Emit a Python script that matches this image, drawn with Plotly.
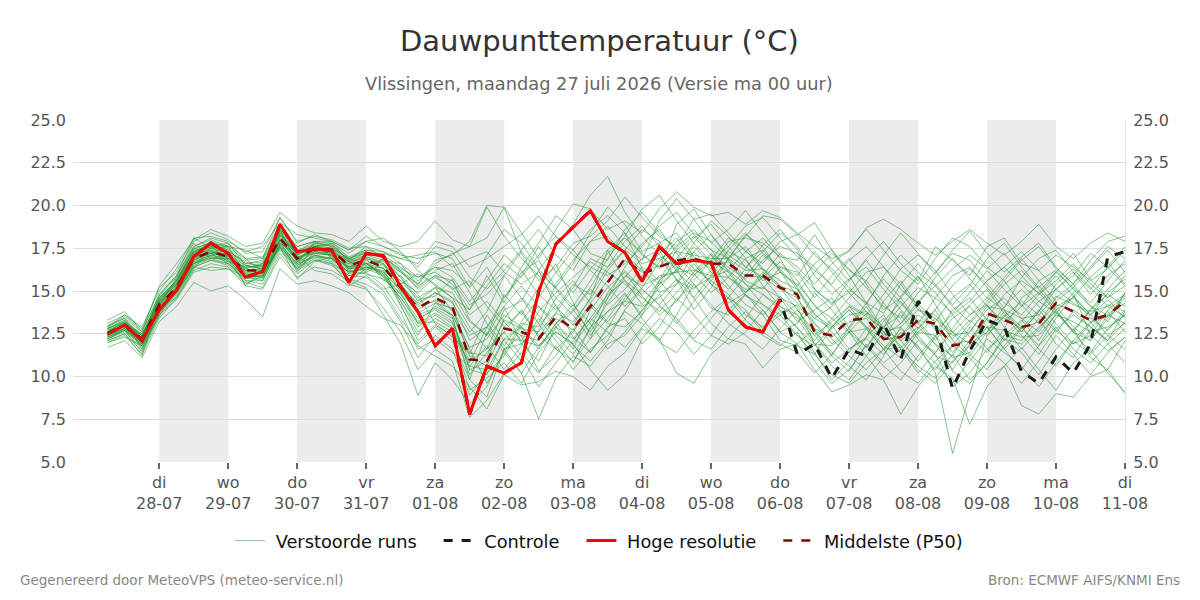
import pandas as pd
import plotly.graph_objects as go

# ---------------- data ----------------
times = pd.date_range("2026-07-27 06:00", periods=60, freq="6h")

hoge_resolutie = [12.5, 13.0, 12.1, 13.9, 15.05, 17.0, 17.8, 17.2, 15.8, 16.15,
                  18.9, 17.3, 17.45, 17.4, 15.5, 17.2, 17.05, 15.25, 13.8, 11.8,
                  12.8, 7.8, 10.6, 10.2, 10.8, 14.95, 17.75, 18.7, 19.7, 17.9,
                  17.25, 15.55, 17.6, 16.6, 16.8, 16.65, 13.9, 12.9, 12.6, 14.5]

controle = hoge_resolutie + [11.3, 11.9, 9.9, 11.6, 11.2, 13.1, 11.0, 14.4, 13.1, 9.3,
                             11.5, 13.3, 12.9, 10.3, 9.6, 11.15, 10.2, 11.9, 17.0, 17.3]

middelste = [12.5, 13.0, 12.2, 14.2, 15.2, 16.9, 17.3, 17.0, 16.2, 16.2,
             18.1, 16.9, 17.5, 17.4, 16.5, 16.8, 16.4, 15.2, 14.0, 14.6,
             14.1, 11.0, 10.9, 12.8, 12.6, 12.2, 13.5, 12.8, 14.1, 15.5,
             16.9, 16.0, 16.4, 16.8, 16.9, 16.6, 16.6, 15.9, 15.9, 15.2,
             14.8, 12.6, 12.4, 13.3, 13.4, 12.2, 12.3, 13.3, 13.1, 11.8,
             12.0, 13.7, 13.3, 12.9, 13.1, 14.3, 13.8, 13.3, 13.6, 14.4]

verstoorde_runs = [
    [12.8, 13.3, 12.4, 14.6, 15.6, 17.4, 17.9, 17.5, 16.6, 16.8, 18.6, 17.3, 17.9, 17.6, 16.9, 17.3, 17.0, 16.2, 15.4, 16.8,
     17.1, 17.9, 20.0, 19.9, 17.2, 15.6, 16.4, 17.8, 18.2, 19.1, 20.5, 19.3, 18.2, 17.6, 18.4, 17.9, 16.8, 15.4, 14.2, 13.6,
     12.4, 11.8, 12.9, 14.1, 13.5, 12.8, 14.7, 15.9, 14.2, 12.6, 11.9, 13.4, 14.8, 15.6, 14.9, 13.8, 12.7, 13.9, 15.1, 16.2],
    [12.2, 12.6, 11.6, 13.8, 14.9, 16.4, 16.8, 16.6, 15.6, 15.4, 17.4, 16.2, 16.8, 16.6, 15.4, 15.1, 14.0, 12.6, 10.4, 11.6,
     10.9, 7.6, 8.6, 10.2, 11.4, 10.2, 11.8, 10.4, 11.6, 12.4, 13.8, 13.1, 12.0, 11.4, 12.7, 13.8, 14.6, 13.3, 12.4, 11.8,
     12.6, 10.9, 9.6, 10.4, 11.8, 10.6, 9.8, 11.2, 12.4, 10.3, 9.6, 10.8, 12.2, 11.4, 10.1, 11.6, 12.8, 11.1, 10.4, 12.1],
    [12.6, 12.9, 12.3, 14.4, 15.4, 17.2, 17.6, 16.9, 16.4, 16.5, 18.3, 17.1, 17.7, 17.0, 16.8, 17.6, 16.9, 15.8, 14.6, 15.2,
     13.8, 12.4, 12.9, 14.6, 16.1, 16.8, 15.2, 14.1, 15.6, 17.2, 18.1, 17.2, 16.3, 18.9, 19.8, 18.3, 17.1, 16.4, 15.8, 14.6,
     13.2, 13.9, 14.6, 12.8, 11.7, 12.9, 13.6, 12.2, 11.4, 12.8, 14.2, 15.1, 13.7, 12.6, 13.8, 15.4, 16.3, 15.2, 14.1, 13.5],
    [12.4, 12.8, 11.8, 14.0, 15.0, 16.7, 17.1, 17.2, 16.0, 15.9, 17.8, 16.6, 17.3, 17.6, 16.2, 16.0, 15.7, 14.8, 13.4, 13.9,
     13.2, 10.4, 10.1, 12.2, 12.9, 11.6, 13.1, 13.9, 12.6, 14.3, 15.8, 16.9, 17.4, 15.6, 15.1, 16.2, 17.3, 16.8, 15.6, 16.1,
     15.4, 14.2, 13.0, 11.6, 12.3, 14.4, 15.6, 14.1, 12.7, 13.6, 12.3, 11.4, 12.8, 14.6, 15.3, 14.1, 12.9, 12.1, 13.4, 14.9],
    [12.9, 13.4, 12.6, 14.8, 15.9, 17.6, 18.1, 17.8, 16.9, 17.0, 18.9, 17.6, 17.9, 17.8, 17.2, 17.9, 17.6, 17.2, 16.4, 17.6,
     17.3, 15.8, 15.1, 16.2, 17.4, 18.6, 17.1, 16.2, 17.9, 18.8, 17.6, 16.8, 19.1, 20.4, 19.2, 17.8, 18.6, 19.7, 18.4, 17.1,
     16.2, 15.1, 14.2, 15.6, 16.8, 15.4, 14.3, 13.1, 14.6, 15.9, 16.4, 15.2, 14.0, 15.8, 16.9, 17.4, 16.1, 14.8, 15.9, 16.6],
    [12.0, 12.4, 11.3, 13.4, 14.6, 16.2, 16.6, 16.4, 15.3, 15.1, 17.0, 15.8, 16.4, 16.2, 15.6, 15.2, 13.6, 11.9, 8.9, 10.8,
     9.8, 8.4, 9.4, 11.6, 10.2, 7.5, 9.9, 11.2, 10.6, 11.9, 12.4, 13.6, 14.8, 13.2, 12.1, 11.6, 12.9, 13.8, 12.6, 11.9,
     11.4, 10.2, 11.3, 12.6, 11.2, 9.9, 10.8, 12.1, 11.3, 9.4, 10.2, 11.6, 10.8, 9.6, 10.9, 12.4, 11.3, 10.1, 11.4, 12.3],
    [12.7, 13.1, 12.5, 14.1, 15.3, 17.0, 17.5, 17.2, 16.3, 16.6, 18.4, 17.0, 17.2, 17.1, 16.6, 17.0, 16.6, 15.6, 14.9, 15.8,
     15.2, 13.6, 14.4, 13.2, 12.1, 13.8, 14.9, 15.8, 16.7, 16.1, 15.4, 14.6, 13.8, 14.9, 16.1, 17.2, 16.4, 15.7, 16.8, 17.6,
     17.2, 16.4, 15.3, 14.2, 13.6, 14.8, 16.3, 17.1, 16.2, 14.8, 13.6, 14.2, 15.4, 16.2, 15.1, 13.9, 14.6, 15.8, 16.7, 15.4],
    [12.3, 12.7, 11.9, 13.9, 15.1, 16.6, 17.0, 16.8, 15.8, 15.7, 17.6, 16.4, 17.0, 16.9, 16.0, 16.4, 16.2, 14.4, 12.6, 13.4,
     12.8, 10.1, 11.4, 12.6, 13.9, 12.4, 11.6, 10.9, 12.2, 14.6, 16.4, 17.8, 18.6, 17.2, 16.0, 14.9, 15.8, 16.9, 17.4, 16.2,
     14.6, 13.1, 11.9, 12.8, 14.1, 12.6, 11.4, 12.8, 13.9, 12.1, 11.2, 12.6, 13.8, 12.9, 11.8, 13.4, 14.7, 13.6, 12.4, 13.1],
    [12.5, 13.1, 12.1, 14.3, 15.1, 16.8, 17.2, 17.1, 16.1, 16.0, 17.9, 16.8, 17.6, 17.8, 16.7, 16.2, 16.9, 16.1, 15.2, 16.2,
     16.6, 14.9, 13.1, 11.8, 13.2, 14.6, 16.1, 17.4, 16.2, 15.3, 14.1, 15.2, 16.7, 17.9, 18.6, 17.4, 16.2, 17.3, 18.1, 16.9,
     15.2, 13.7, 12.6, 11.4, 12.8, 13.6, 12.1, 10.9, 12.3, 13.9, 14.6, 13.3, 12.1, 13.2, 14.4, 13.7, 12.6, 13.9, 14.8, 14.1],
    [12.6, 13.0, 12.4, 14.5, 15.5, 17.1, 17.4, 16.7, 16.4, 16.4, 18.2, 17.2, 17.4, 17.3, 16.4, 16.9, 16.6, 15.4, 14.2, 14.9,
     14.3, 12.6, 13.8, 15.9, 17.3, 16.2, 17.6, 18.9, 20.6, 21.7, 19.6, 18.2, 17.1, 16.3, 17.8, 19.1, 18.2, 16.9, 15.3, 14.1,
     13.6, 12.4, 11.2, 12.9, 14.3, 15.7, 14.6, 13.2, 12.1, 13.4, 14.1, 12.9, 11.6, 12.8, 13.9, 12.7, 11.9, 13.1, 14.2, 13.8],
    [12.2, 12.7, 11.7, 13.7, 14.8, 16.5, 16.9, 16.9, 15.9, 15.8, 17.7, 16.3, 17.1, 16.8, 16.1, 16.6, 15.9, 14.2, 12.1, 13.0,
     12.4, 9.2, 9.9, 10.8, 9.6, 11.4, 12.6, 11.9, 10.4, 9.2, 10.1, 12.2, 13.4, 12.6, 11.3, 12.4, 13.9, 14.8, 13.6, 12.1,
     11.8, 11.3, 10.1, 9.6, 10.8, 11.6, 10.3, 9.6, 10.9, 11.8, 11.1, 9.9, 10.6, 11.7, 10.4, 9.2, 10.8, 11.6, 10.2, 9.1],
    [12.8, 13.2, 12.2, 14.2, 15.7, 17.3, 17.7, 17.4, 16.5, 16.3, 18.5, 16.7, 17.8, 17.7, 17.0, 17.4, 17.3, 16.6, 15.8, 16.4,
     15.8, 14.4, 15.6, 17.1, 16.2, 14.8, 13.9, 15.4, 14.8, 16.4, 17.9, 18.8, 17.6, 16.4, 15.9, 16.8, 18.1, 17.4, 16.2, 15.3,
     14.9, 16.1, 17.2, 16.3, 15.2, 14.1, 13.4, 14.9, 16.1, 17.2, 16.8, 15.6, 16.4, 17.3, 16.2, 15.1, 15.9, 17.2, 16.4, 15.3],
    [12.4, 12.9, 12.0, 14.1, 15.0, 16.9, 17.3, 17.0, 16.3, 16.1, 18.0, 17.0, 17.3, 17.2, 16.3, 16.5, 16.1, 15.0, 13.7, 14.3,
     14.0, 11.2, 10.6, 12.9, 12.4, 12.1, 13.4, 12.7, 14.3, 15.6, 16.8, 16.1, 16.5, 16.7, 16.8, 16.5, 16.7, 15.9, 15.8, 15.1,
     14.6, 12.8, 12.3, 13.2, 13.4, 12.1, 12.4, 13.3, 13.0, 11.9, 12.1, 13.6, 13.4, 12.8, 13.2, 14.2, 13.9, 13.2, 13.5, 14.3],
    [12.3, 12.8, 11.9, 14.0, 14.9, 16.6, 17.1, 16.9, 16.0, 16.1, 18.0, 16.7, 17.2, 17.1, 16.3, 16.7, 15.8, 14.6, 13.2, 14.1,
     13.6, 11.7, 12.2, 13.6, 12.9, 11.8, 12.9, 12.2, 13.4, 14.8, 15.6, 14.8, 15.9, 16.1, 15.2, 15.8, 16.2, 15.4, 14.8, 14.1,
     13.4, 11.9, 10.8, 11.6, 12.2, 11.3, 12.6, 11.8, 10.2, 5.5, 8.9, 12.4, 13.6, 12.4, 11.3, 12.8, 13.6, 12.9, 12.1, 13.2],
    [12.6, 13.2, 12.3, 14.4, 15.4, 17.0, 17.3, 17.1, 16.5, 16.6, 18.3, 17.1, 17.5, 17.2, 16.9, 17.2, 17.2, 16.9, 16.6, 17.9,
     17.6, 16.4, 16.9, 17.6, 18.3, 19.4, 18.2, 17.1, 16.4, 15.9, 16.6, 17.6, 18.8, 19.6, 18.3, 17.4, 16.9, 18.2, 19.4, 19.2,
     18.3, 19.0, 17.4, 16.2, 15.6, 17.1, 18.4, 17.2, 16.0, 17.4, 18.5, 17.2, 16.1, 17.0, 17.8, 16.4, 15.4, 16.8, 17.9, 18.2],
    [12.5, 12.9, 12.2, 14.3, 15.2, 16.8, 17.2, 16.6, 15.7, 16.0, 17.7, 16.6, 17.0, 16.7, 15.9, 16.1, 15.3, 13.8, 11.6, 12.2,
     11.4, 10.6, 11.8, 10.4, 11.8, 13.4, 12.1, 10.8, 12.9, 13.8, 14.9, 13.4, 12.1, 13.6, 15.4, 14.2, 13.1, 12.4, 11.6, 12.8,
     13.9, 12.6, 11.4, 10.6, 9.8, 11.2, 12.9, 11.6, 10.4, 11.8, 13.1, 14.2, 12.9, 11.6, 12.8, 13.9, 12.6, 11.4, 12.8, 13.6],
    [12.9, 13.5, 12.7, 14.7, 15.8, 17.5, 17.8, 17.6, 16.8, 16.9, 18.7, 17.4, 17.7, 17.5, 16.9, 17.4, 17.1, 16.4, 15.6, 16.4,
     16.2, 15.3, 17.1, 18.6, 17.8, 16.3, 15.1, 13.9, 15.2, 16.9, 18.2, 19.8, 20.6, 19.1, 17.8, 16.7, 17.6, 18.8, 19.3, 18.1,
     17.0, 16.2, 15.4, 16.8, 17.6, 16.4, 15.1, 14.2, 15.8, 16.9, 15.7, 14.6, 15.8, 16.9, 15.6, 14.4, 15.2, 16.3, 17.4, 16.1],
    [12.1, 12.5, 11.5, 13.6, 14.5, 16.1, 16.4, 16.3, 15.5, 15.2, 17.2, 16.0, 16.8, 16.5, 15.7, 15.4, 14.8, 13.2, 11.1, 12.4,
     11.6, 8.9, 10.2, 11.2, 12.9, 14.1, 13.2, 11.8, 10.9, 12.1, 13.9, 15.1, 14.2, 13.1, 14.4, 15.6, 14.8, 13.6, 12.9, 13.8,
     12.9, 11.4, 9.8, 10.9, 12.3, 13.4, 11.6, 10.2, 11.4, 12.6, 11.3, 10.4, 11.8, 12.9, 11.6, 10.6, 12.1, 13.2, 11.9, 10.8],
    [12.7, 13.1, 12.4, 14.2, 15.3, 17.1, 17.6, 17.3, 16.7, 16.4, 18.4, 17.2, 17.6, 17.3, 16.6, 17.1, 16.8, 15.8, 14.4, 15.2,
     14.9, 13.2, 12.4, 14.1, 15.3, 14.1, 12.9, 13.8, 15.1, 14.2, 15.1, 16.4, 15.6, 14.4, 15.9, 17.1, 16.2, 14.9, 15.8, 16.7,
     15.6, 14.1, 13.4, 14.6, 15.6, 14.3, 13.1, 14.4, 15.3, 14.1, 13.2, 14.4, 15.6, 14.2, 13.1, 14.6, 15.4, 14.1, 13.2, 14.9],
    [12.4, 13.0, 12.0, 14.1, 15.2, 16.7, 17.1, 16.8, 16.2, 16.3, 18.0, 16.9, 17.4, 17.3, 16.4, 16.6, 16.0, 14.8, 13.9, 14.5,
     13.9, 11.6, 9.6, 11.4, 13.1, 12.9, 14.2, 12.3, 11.4, 12.8, 14.6, 15.9, 17.2, 18.1, 16.8, 15.4, 14.6, 15.9, 17.1, 16.3,
     15.1, 13.6, 12.9, 13.9, 12.8, 11.6, 12.4, 13.6, 12.9, 11.4, 12.6, 13.9, 14.6, 13.4, 12.6, 14.1, 14.6, 13.4, 12.7, 13.9],
    [12.6, 13.0, 12.3, 14.4, 15.5, 17.2, 17.5, 17.2, 16.1, 16.6, 18.3, 17.3, 17.6, 17.5, 16.7, 17.0, 16.7, 16.1, 15.4, 16.6,
     17.2, 17.6, 19.9, 18.2, 16.9, 15.9, 14.6, 15.6, 14.3, 13.2, 14.4, 15.8, 16.9, 15.7, 14.6, 15.9, 17.4, 18.4, 17.2, 16.4,
     15.9, 17.3, 16.1, 14.9, 13.8, 12.9, 14.1, 15.2, 14.6, 13.7, 14.9, 16.2, 15.1, 14.1, 14.9, 16.1, 15.2, 14.3, 15.6, 16.8],
    [12.3, 12.7, 11.8, 13.9, 14.9, 16.6, 17.0, 16.7, 15.9, 15.8, 17.8, 16.5, 17.1, 16.9, 16.1, 16.3, 15.9, 14.6, 13.1, 13.7,
     13.1, 10.9, 11.6, 12.6, 11.2, 9.4, 10.8, 12.1, 13.4, 12.6, 11.7, 12.9, 14.1, 13.4, 12.2, 13.4, 14.6, 13.9, 12.8, 13.6,
     14.2, 13.1, 12.2, 11.2, 10.4, 11.6, 12.8, 11.7, 10.8, 9.6, 10.9, 12.2, 11.4, 10.6, 9.4, 10.8, 12.1, 11.3, 12.4, 11.6],
    [12.8, 13.2, 12.5, 14.5, 15.6, 17.3, 17.8, 17.4, 16.6, 16.7, 18.5, 17.1, 17.8, 17.6, 16.8, 17.1, 17.0, 16.2, 15.1, 15.9,
     15.6, 14.2, 14.8, 15.9, 14.6, 13.1, 15.4, 16.8, 17.9, 18.2, 17.1, 16.2, 15.4, 16.9, 18.1, 18.9, 17.6, 16.4, 17.3, 18.4,
     17.6, 15.9, 14.8, 15.7, 16.4, 15.1, 13.9, 12.8, 13.9, 15.3, 16.3, 15.4, 14.3, 13.6, 14.8, 15.9, 14.7, 13.6, 14.9, 15.7],
    [12.5, 13.0, 12.1, 14.2, 15.1, 16.9, 17.2, 17.0, 16.2, 16.2, 18.1, 16.8, 17.4, 17.2, 16.3, 16.4, 16.1, 15.1, 13.6, 14.0,
     13.4, 10.4, 10.9, 13.4, 14.6, 13.6, 12.4, 11.3, 12.8, 14.9, 16.2, 15.1, 14.2, 15.4, 16.6, 15.4, 14.3, 14.9, 16.1, 15.2,
     13.9, 12.4, 13.2, 14.1, 12.9, 11.8, 11.1, 12.6, 13.4, 12.2, 13.3, 12.4, 13.5, 14.4, 13.6, 12.6, 13.8, 12.9, 12.1, 13.8],
    [12.2, 12.7, 11.4, 13.6, 14.7, 16.4, 16.8, 16.5, 15.6, 15.6, 17.5, 16.3, 16.9, 16.6, 15.9, 15.8, 15.0, 13.4, 11.9, 12.9,
     12.1, 9.8, 12.6, 11.4, 10.2, 11.7, 13.1, 14.2, 13.1, 11.6, 12.6, 13.9, 15.2, 16.3, 14.6, 13.1, 12.2, 13.4, 14.8, 13.9,
     12.8, 11.9, 10.6, 9.8, 11.2, 12.6, 11.8, 10.4, 9.6, 10.9, 11.8, 12.9, 11.6, 10.4, 11.8, 12.9, 11.6, 10.8, 11.9, 12.8],
    [12.7, 13.1, 12.4, 14.6, 15.6, 17.3, 17.6, 17.3, 16.4, 16.5, 18.6, 17.2, 17.6, 17.4, 16.7, 17.3, 16.9, 16.3, 15.8, 16.1,
     15.4, 13.9, 15.3, 16.6, 15.8, 17.1, 18.2, 17.4, 18.6, 19.4, 18.4, 17.1, 16.4, 17.6, 19.2, 19.5, 18.4, 17.3, 16.6, 17.9,
     18.3, 17.1, 16.3, 15.2, 14.2, 15.9, 17.1, 16.1, 15.3, 16.3, 17.1, 16.3, 17.2, 15.9, 14.8, 15.6, 16.6, 15.4, 14.6, 15.3],
    [12.4, 12.8, 12.0, 14.0, 15.0, 16.8, 17.3, 16.9, 16.3, 16.0, 17.9, 16.8, 17.3, 17.1, 16.4, 16.6, 16.3, 15.2, 14.3, 14.9,
     14.4, 12.1, 12.9, 11.6, 11.9, 13.1, 11.6, 12.6, 14.1, 13.1, 12.9, 13.8, 15.4, 16.2, 17.6, 16.6, 15.3, 14.2, 13.6, 14.7,
     13.6, 12.1, 13.4, 12.6, 13.7, 12.4, 13.1, 14.2, 13.4, 12.6, 13.6, 14.6, 13.9, 12.6, 13.8, 15.1, 14.3, 13.6, 14.5, 13.4],
    [12.6, 13.0, 12.2, 14.3, 15.4, 16.9, 17.4, 17.1, 16.2, 16.3, 18.2, 16.9, 17.4, 17.4, 16.5, 16.9, 16.5, 15.4, 14.1, 14.4,
     13.6, 11.4, 11.2, 13.3, 12.8, 12.6, 13.7, 13.2, 14.5, 16.2, 17.4, 16.6, 16.9, 17.3, 17.1, 16.9, 16.9, 16.2, 16.3, 15.6,
     15.1, 13.4, 12.8, 13.6, 13.8, 12.6, 12.9, 13.9, 13.6, 12.4, 12.6, 14.1, 13.9, 13.4, 13.6, 14.7, 14.2, 13.8, 14.1, 14.8],
    [12.3, 12.8, 11.9, 13.9, 15.0, 16.6, 16.9, 16.6, 15.8, 15.9, 17.6, 16.5, 17.1, 16.9, 16.1, 16.4, 16.0, 14.4, 12.9, 13.6,
     12.9, 10.6, 10.4, 12.2, 12.1, 11.8, 12.6, 11.9, 13.2, 14.6, 15.9, 15.3, 15.8, 16.1, 16.2, 15.9, 15.8, 15.1, 15.2, 14.6,
     14.1, 11.9, 11.8, 12.6, 12.8, 11.6, 11.7, 12.6, 12.4, 11.1, 11.4, 12.9, 12.7, 12.3, 12.4, 13.6, 13.2, 12.6, 12.9, 13.6],
    [12.9, 13.6, 12.8, 15.2, 16.1, 17.9, 18.4, 18.0, 17.2, 17.3, 19.3, 17.8, 18.3, 17.9, 17.4, 18.2, 17.6, 17.1, 16.9, 17.2,
     16.9, 15.2, 16.4, 14.6, 15.9, 17.6, 16.1, 14.9, 16.3, 17.4, 15.6, 14.2, 15.6, 17.4, 18.2, 17.1, 15.8, 14.9, 15.9, 17.2,
     16.4, 15.4, 16.6, 17.4, 18.6, 17.4, 16.2, 15.4, 16.9, 18.1, 17.6, 16.4, 15.6, 16.8, 17.6, 16.3, 15.4, 16.4, 17.6, 16.9],
    [13.3, 13.8, 12.6, 15.3, 16.6, 18.0, 18.6, 18.2, 17.6, 17.8, 19.6, 18.8, 18.4, 18.3, 17.9, 18.8, 17.9, 17.6, 17.9, 19.1,
     18.0, 17.6, 18.1, 19.9, 18.4, 16.9, 18.6, 20.1, 19.8, 18.6, 19.1, 18.4, 19.8, 20.8, 19.9, 19.4, 19.6, 18.9, 19.7, 19.3,
     18.4, 17.6, 16.9, 17.3, 18.7, 19.2, 18.6, 17.8, 17.1, 17.9, 18.6, 17.8, 17.1, 17.9, 18.9, 17.6, 16.9, 17.8, 18.4, 17.9],
    [11.7, 12.1, 11.1, 13.2, 14.1, 15.5, 15.0, 15.3, 14.5, 13.5, 16.3, 15.4, 15.6, 15.3, 14.9, 14.1, 13.4, 13.0, 11.8, 11.2,
     10.6, 9.4, 8.1, 10.1, 9.5, 9.7, 10.3, 10.0, 9.2, 10.6, 11.4, 12.8, 12.2, 10.2, 9.6, 11.3, 12.2, 11.9, 10.5, 11.6,
     11.9, 10.4, 9.1, 9.5, 10.1, 9.8, 7.8, 9.4, 10.6, 9.9, 7.2, 9.4, 10.6, 8.3, 7.8, 9.0, 8.8, 10.0, 10.4, 9.0],
    [13.1, 13.6, 12.9, 15.0, 16.3, 18.1, 18.2, 17.9, 17.3, 17.6, 19.0, 18.3, 18.1, 17.9, 17.4, 17.9, 18.1, 17.3, 16.2, 15.3,
     14.6, 13.9, 15.9, 14.3, 16.4, 17.8, 19.4, 18.6, 17.2, 16.8, 18.6, 19.6, 18.4, 17.4, 16.3, 15.6, 16.9, 18.3, 17.6, 16.1,
     15.3, 16.6, 17.4, 15.9, 14.3, 13.7, 15.4, 16.6, 15.4, 14.2, 15.3, 16.9, 17.8, 16.4, 15.2, 16.1, 17.2, 15.7, 14.6, 15.9],
    [12.0, 12.3, 11.8, 13.5, 15.3, 17.2, 17.9, 16.8, 15.4, 15.9, 17.6, 15.7, 16.7, 17.0, 16.2, 16.9, 15.6, 15.9, 14.8, 13.1,
     12.3, 11.3, 13.6, 12.1, 10.9, 12.7, 14.6, 13.6, 12.2, 13.4, 14.8, 13.6, 15.6, 16.6, 15.4, 14.0, 13.6, 14.8, 13.9, 12.6,
     13.1, 14.9, 13.9, 12.6, 11.7, 13.2, 14.4, 13.1, 11.9, 11.2, 12.9, 11.6, 12.4, 13.3, 12.1, 13.7, 14.9, 12.4, 11.5, 12.3],
    [13.0, 13.4, 12.2, 14.8, 15.9, 18.1, 17.5, 17.6, 17.4, 16.9, 19.3, 17.9, 18.2, 18.0, 17.5, 17.6, 17.3, 16.9, 17.1, 17.3,
     16.4, 16.9, 17.3, 16.1, 15.4, 16.1, 15.2, 16.6, 18.4, 19.9, 18.9, 17.3, 17.8, 18.4, 17.0, 16.3, 17.9, 18.1, 17.8, 17.0,
     16.8, 18.3, 16.7, 15.6, 16.9, 17.9, 16.6, 15.6, 17.6, 16.8, 15.9, 17.6, 18.1, 16.6, 16.2, 17.1, 16.4, 15.6, 16.3, 17.4],
    [12.1, 12.5, 11.2, 14.4, 15.6, 17.6, 18.0, 17.6, 16.0, 15.8, 18.0, 16.1, 17.3, 17.1, 15.6, 16.3, 16.4, 14.1, 12.4, 14.3,
     13.5, 9.8, 8.8, 11.6, 12.4, 10.3, 11.2, 12.8, 11.4, 12.9, 13.4, 11.9, 12.9, 14.6, 13.6, 12.4, 11.9, 12.6, 13.9, 12.6,
     11.9, 12.8, 11.2, 10.3, 11.9, 10.8, 11.6, 10.6, 9.9, 11.3, 9.8, 10.8, 12.4, 12.1, 13.4, 11.9, 11.1, 12.8, 13.8, 12.6],
    [12.6, 13.2, 11.6, 13.7, 14.9, 16.4, 16.2, 16.3, 15.8, 15.6, 17.8, 17.1, 16.2, 16.0, 15.3, 15.9, 15.1, 15.4, 16.0, 15.4,
     14.6, 12.9, 11.6, 13.9, 14.4, 16.2, 14.1, 13.0, 14.6, 17.4, 18.4, 16.3, 14.9, 15.4, 17.3, 16.1, 15.1, 16.3, 17.7, 18.6,
     17.4, 15.1, 14.3, 14.9, 16.1, 16.4, 15.4, 13.9, 13.2, 14.6, 15.4, 14.1, 13.2, 14.1, 15.6, 16.2, 15.1, 14.1, 13.6, 14.6],
    [12.5, 12.8, 12.2, 14.0, 14.6, 16.3, 17.6, 17.8, 16.5, 16.3, 18.6, 17.6, 17.9, 16.9, 16.4, 16.8, 16.3, 15.6, 14.5, 14.7,
     15.7, 13.3, 12.4, 14.8, 13.6, 15.2, 16.6, 14.3, 12.4, 13.8, 14.4, 14.1, 14.6, 15.7, 13.9, 15.2, 16.9, 17.6, 16.3, 15.3,
     14.3, 13.4, 14.1, 15.1, 14.3, 12.8, 12.1, 12.9, 11.9, 10.4, 11.9, 12.6, 14.1, 15.1, 14.1, 13.1, 11.9, 12.4, 13.9, 14.7],
    [12.4, 13.0, 11.8, 14.1, 15.8, 17.8, 16.9, 17.1, 15.3, 16.2, 17.5, 16.3, 17.6, 17.7, 16.8, 16.1, 16.6, 14.9, 13.1, 13.2,
     12.6, 10.8, 12.9, 14.1, 11.9, 10.9, 12.9, 11.6, 13.9, 15.2, 16.1, 14.7, 13.6, 14.4, 15.6, 16.8, 16.1, 14.7, 14.2, 13.3,
     12.4, 11.3, 12.9, 13.9, 12.9, 12.2, 13.8, 12.4, 11.2, 10.8, 12.1, 13.4, 12.2, 11.9, 12.9, 13.8, 12.6, 12.1, 13.6, 13.1],
    [12.8, 13.3, 12.1, 14.6, 15.4, 17.5, 17.2, 17.7, 16.9, 16.1, 18.6, 16.6, 17.9, 17.9, 16.9, 16.6, 16.8, 16.6, 15.3, 15.9,
     15.1, 15.6, 14.1, 12.9, 13.8, 12.3, 13.7, 15.2, 16.9, 16.4, 17.4, 18.6, 17.9, 16.1, 17.3, 18.3, 16.9, 15.6, 15.1, 16.4,
     16.1, 14.6, 15.9, 16.9, 15.4, 13.9, 14.6, 15.8, 14.9, 13.6, 14.4, 15.6, 16.4, 15.4, 14.4, 15.1, 16.1, 15.1, 16.4, 17.6],
]

tick_days = ["2026-07-28", "2026-07-29", "2026-07-30", "2026-07-31", "2026-08-01", "2026-08-02",
             "2026-08-03", "2026-08-04", "2026-08-05", "2026-08-06", "2026-08-07", "2026-08-08",
             "2026-08-09", "2026-08-10", "2026-08-11"]
tick_weekdays = ["di", "wo", "do", "vr", "za", "zo", "ma", "di", "wo", "do", "vr", "za", "zo", "ma", "di"]
tick_dates = ["28-07", "29-07", "30-07", "31-07", "01-08", "02-08", "03-08", "04-08",
              "05-08", "06-08", "07-08", "08-08", "09-08", "10-08", "11-08"]
shaded_days = ["2026-07-28", "2026-07-30", "2026-08-01", "2026-08-03", "2026-08-05", "2026-08-07", "2026-08-09"]

# ---------------- figure ----------------
FONT = "DejaVu Sans"
LEAD = "\u00a0"
PAD = "\u00a0\u00a0\u00a0"
fig = go.Figure()

for k, run in enumerate(verstoorde_runs):
    fig.add_trace(go.Scatter(
        x=times, y=run, mode="lines",
        line=dict(color="rgba(34,150,50,0.55)", width=1),
        name=LEAD + "Verstoorde runs" + PAD, legendgroup="runs", showlegend=(k == 0),
        legendrank=1, hoverinfo="skip"))

fig.add_trace(go.Scatter(
    x=times, y=middelste, mode="lines", name=LEAD + "Middelste (P50)",
    line=dict(color="#8b0000", width=2.5, dash="dash"), legendrank=4, hoverinfo="skip"))
fig.add_trace(go.Scatter(
    x=times, y=controle, mode="lines", name=LEAD + "Controle" + PAD,
    line=dict(color="#1a1a1a", width=3, dash="dash"), legendrank=2, hoverinfo="skip"))
fig.add_trace(go.Scatter(
    x=times[:len(hoge_resolutie)], y=hoge_resolutie, mode="lines", name=LEAD + "Hoge resolutie" + PAD,
    line=dict(color="#ff0000", width=3), legendrank=3, hoverinfo="skip"))
# invisible trace to activate right-hand axis
fig.add_trace(go.Scatter(x=[times[0]], y=[middelste[0]], yaxis="y2", mode="lines",
                         opacity=0, showlegend=False, hoverinfo="skip"))

shapes = []
for d in shaded_days:
    d0 = pd.Timestamp(d)
    shapes.append(dict(type="rect", xref="x", yref="paper", x0=d0, x1=d0 + pd.Timedelta(days=1),
                       y0=0, y1=1, fillcolor="#ececec", line=dict(width=0), layer="below"))

fig.update_layout(
    width=1200, height=600,
    margin=dict(l=73, r=75, t=120, b=138),
    paper_bgcolor="white", plot_bgcolor="white",
    font=dict(family=FONT, color="#555555", size=16),
    shapes=shapes,
    showlegend=True,
    legend=dict(orientation="h", x=0.5, xanchor="center", y=-0.231, yanchor="middle",
                font=dict(size=17.8, color="#111111", family=FONT), traceorder="normal"),
    hovermode=False,
    xaxis=dict(
        type="date",
        range=[pd.Timestamp("2026-07-26 18:00"), pd.Timestamp("2026-08-11 00:00")],
        tickvals=[pd.Timestamp(d) for d in tick_days],
        ticktext=[f"{w}<br>{d}" for w, d in zip(tick_weekdays, tick_dates)],
        ticks="outside", ticklen=6, tickcolor="#666666", tickwidth=2,
        showgrid=False, zeroline=False, showline=False,
        tickfont=dict(size=16, color="#555555")),
    yaxis=dict(
        range=[5, 25], dtick=2.5, tick0=5, tickformat=".1f",
        showgrid=True, gridcolor="#dddddd", gridwidth=1, zeroline=False,
        ticklabelstandoff=6,
        tickfont=dict(size=16, color="#555555")),
    yaxis2=dict(
        range=[5, 25], dtick=2.5, tick0=5, tickformat=".1f", overlaying="y", side="right",
        matches="y", showgrid=False, zeroline=False, showline=True, linecolor="#e3e3e3",
        ticklabelstandoff=4,
        tickfont=dict(size=16, color="#555555")),
    annotations=[
        dict(text="Dauwpunttemperatuur (°C)", xref="paper", yref="paper", x=0.5, y=1.231,
             xanchor="center", yanchor="middle", showarrow=False,
             font=dict(size=29, color="#333333", family=FONT)),
        dict(text="Vlissingen, maandag 27 juli 2026 (Versie ma 00 uur)", xref="paper", yref="paper",
             x=0.5, y=1.108, xanchor="center", yanchor="middle", showarrow=False,
             font=dict(size=17.8, color="#666666", family=FONT)),
        dict(text="Gegenereerd door MeteoVPS (meteo-service.nl)", xref="paper", yref="paper",
             x=-0.0523, y=-0.345, xanchor="left", yanchor="middle", showarrow=False,
             font=dict(size=13.5, color="#888888", family=FONT)),
        dict(text="Bron: ECMWF AIFS/KNMI Ens", xref="paper", yref="paper",
             x=1.0542, y=-0.345, xanchor="right", yanchor="middle", showarrow=False,
             font=dict(size=13.5, color="#888888", family=FONT)),
    ],
)

fig.write_html("out.html")
